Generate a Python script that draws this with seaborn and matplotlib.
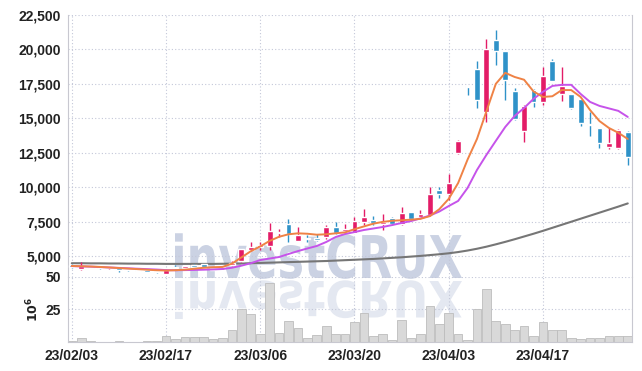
import numpy as np
import pandas as pd
import matplotlib
matplotlib.use("Agg")
import matplotlib.pyplot as plt
import seaborn as sns
from matplotlib.textpath import TextPath
from matplotlib.patches import PathPatch
from matplotlib.font_manager import FontProperties
from matplotlib.transforms import Affine2D
from matplotlib.ticker import FuncFormatter

# colores
ROJO = "#e31c67"
AZUL = "#2f92c8"
NARANJA = "#ef8245"
MORADO = "#c653ea"
GRIS_MA = "#767676"
GRID = "#c3c7d8"
MARCA = "#cbd2e3"

# datos diarios (60 sesiones, 23/02/03 .. 23/04/28)
apertura = [4350, 4050, 4220, 4200, 4100, 4100, 4000, 3990, 3960, 3900,
            3720, 4200, 4100, 4350, 4400, 4100, 4100, 4350, 4640, 5440,
            5630, 5750, 6650, 7330, 6110, 6290, 6330, 6400, 7130, 6840,
            6700, 7490, 7620, 7300, 7740, 7330, 8180, 7850, 7980, 9800,
            9510, 12510, 17360, 18590, 15490, 20700, 19900, 16990, 14110, 17060,
            16210, 19170, 16740, 16760, 16410, 14550, 14320, 12940, 12870, 14030]
maximo = [4400, 4600, 4260, 4230, 4180, 4180, 4020, 4010, 3980, 3920,
          4050, 4350, 4300, 4400, 4450, 4120, 4220, 4640, 5530, 6040,
          6000, 7420, 6960, 7670, 7080, 6530, 6620, 7280, 7490, 7300,
          7860, 8410, 7900, 8030, 7800, 8540, 8200, 8340, 9990, 10040,
          10960, 13400, 17360, 19170, 20750, 21420, 19900, 17230, 15950, 17100,
          18760, 19320, 18720, 16770, 16410, 15440, 14330, 14280, 14200, 14050]
minimo = [4150, 4000, 4120, 4080, 4080, 3870, 3940, 3880, 3840, 3800,
          3700, 4050, 4080, 4150, 4200, 3960, 4080, 4270, 4600, 5400,
          5450, 5430, 6360, 6040, 6100, 6040, 6100, 6250, 6600, 6700,
          6650, 7250, 7250, 6890, 7250, 7250, 7650, 7740, 7900, 9190,
          9070, 12390, 16700, 15730, 14760, 18880, 16340, 14900, 13310, 15830,
          16000, 17700, 16290, 15700, 14470, 13720, 12830, 12750, 12750, 11610]
cierre = [4200, 4300, 4150, 4100, 4150, 3960, 3960, 3900, 3860, 3830,
          4000, 4100, 4270, 4180, 4220, 3980, 4200, 4470, 5490, 5680,
          5820, 6840, 6770, 6600, 6530, 6260, 6160, 7130, 6690, 6940,
          7540, 7810, 7420, 7490, 7300, 8100, 7690, 8030, 9500, 9480,
          10330, 13360, 17300, 16340, 20020, 19850, 17790, 14930, 15900, 16210,
          18080, 17740, 17350, 15780, 14640, 14500, 13190, 13190, 14160, 12210]
volumen = [1.0, 3.4, 0.6, 0.3, 0.3, 0.5, 0.3, 0.3, 0.6, 0.4,
           4.4, 2.0, 3.5, 3.7, 3.7, 2.0, 3.0, 9.0, 25.7, 21.3,
           6.0, 45.0, 7.0, 16.0, 11.0, 3.0, 5.0, 12.0, 6.5, 6.5,
           15.4, 22.3, 4.4, 6.5, 1.8, 17.2, 3.4, 6.0, 28.0, 13.6,
           22.3, 6.5, 1.8, 25.0, 41.0, 16.0, 14.0, 9.0, 12.6, 4.4,
           15.0, 9.0, 9.0, 3.4, 2.6, 3.4, 3.4, 4.9, 4.9, 4.9]

# medias moviles
ma_corta = [4280, 4260, 4240, 4210, 4170, 4130, 4090, 4050, 4010, 3970,
            3950, 3970, 4010, 4080, 4150, 4190, 4210, 4450, 4900, 5350,
            5700, 6100, 6400, 6580, 6650, 6620, 6550, 6580, 6650, 6720,
            6950, 7150, 7350, 7480, 7560, 7600, 7640, 7700, 7900, 8400,
            9150, 10300, 12000, 13500, 15500, 17500, 18300, 18000, 17800, 16950,
            16550, 16600, 17050, 17050, 16550, 15600, 14800, 14300, 13950, 13500]
ma_media = [4270, 4250, 4230, 4200, 4170, 4140, 4110, 4080, 4050, 4020,
            3980, 3970, 3980, 3990, 4010, 4030, 4060, 4150, 4300, 4480,
            4710, 4820, 4930, 5150, 5360, 5550, 5730, 6020, 6380, 6600,
            6740, 6890, 7000, 7110, 7250, 7400, 7540, 7730, 7940, 8230,
            8630, 9000, 9940, 11250, 12340, 13360, 14370, 15170, 15750, 16410,
            16920, 17350, 17430, 17430, 16770, 16190, 15900, 15720, 15540, 15100]
ma_larga = [4480, 4480, 4470, 4470, 4460, 4460, 4450, 4450, 4440, 4440,
            4430, 4430, 4430, 4430, 4430, 4430, 4440, 4450, 4460, 4480,
            4500, 4520, 4540, 4560, 4580, 4600, 4620, 4640, 4670, 4700,
            4730, 4760, 4790, 4830, 4870, 4910, 4960, 5010, 5070, 5130,
            5200, 5290, 5400, 5530, 5680, 5850, 6030, 6220, 6420, 6620,
            6830, 7050, 7270, 7490, 7710, 7930, 8150, 8370, 8590, 8820]

pos_ticks = [0, 10, 20, 30, 40, 50]
etiquetas = ["23/02/03", "23/02/17", "23/03/06", "23/03/20", "23/04/03", "23/04/17"]

df = pd.DataFrame({"o": apertura, "h": maximo, "l": minimo, "c": cierre,
                   "v": volumen, "ma5": ma_corta, "ma20": ma_media, "ma120": ma_larga})
df["x"] = np.arange(len(df))
df["col"] = np.where(df["c"] >= df["o"], ROJO, AZUL)

sns.set_style("white")
plt.rcParams["font.family"] = ["Liberation Sans", "DejaVu Sans"]
plt.rcParams["font.weight"] = "bold"
TAM = 10

fig = plt.figure(figsize=(6.42, 3.71), dpi=100, facecolor="white")
ax = fig.add_axes([0.1059, 0.2534, 0.8785, 0.7062])
axv = fig.add_axes([0.1059, 0.0782, 0.8785, 0.1752], sharex=ax)
for a in (ax, axv):
    a.set_facecolor("none")
    a.grid(True, color=GRID, linestyle=(0, (1, 2)), linewidth=0.8)
    a.tick_params(length=0, labelsize=TAM, colors="#222222")
    for s in a.spines.values():
        s.set_color("#c8c8d0")
        s.set_linewidth(0.8)
ax.spines["top"].set_visible(False)
ax.spines["bottom"].set_visible(False)
axv.spines["top"].set_visible(False)

# velas
ax.vlines(df["x"], df["l"], df["h"], colors=df["col"], linewidth=1.0, zorder=3)
alto = (df["c"] - df["o"]).abs().clip(lower=50)
base = df[["o", "c"]].min(axis=1)
ax.bar(df["x"], alto, bottom=base, width=0.62, color=df["col"], zorder=4)

# medias
sns.lineplot(data=df, x="x", y="ma120", ax=ax, color=GRIS_MA, linewidth=1.5, zorder=2)
sns.lineplot(data=df, x="x", y="ma20", ax=ax, color=MORADO, linewidth=1.4, zorder=5)
sns.lineplot(data=df, x="x", y="ma5", ax=ax, color=NARANJA, linewidth=1.4, zorder=6)

ax.set_ylim(3480, 22500)
ax.set_yticks(np.arange(5000, 22501, 2500))
ax.yaxis.set_major_formatter(FuncFormatter(lambda v, p: f"{int(v):,}"))
ax.tick_params(axis="y", pad=5)
ax.set_xlabel("")
ax.set_ylabel("")
plt.setp(ax.get_xticklabels(), visible=False)

# volumen
sns.barplot(data=df, x="x", y="v", ax=axv, native_scale=True, color="#d9d9d9",
            edgecolor="#bdbdbd", linewidth=0.6, width=0.92, saturation=1, errorbar=None)
axv.set_ylim(0, 50)
axv.set_yticks([25, 50])
axv.tick_params(axis="y", pad=5)
axv.set_ylabel(r"$10^6$", fontsize=9, color="#222222", labelpad=3)
axv.set_xlabel("")
axv.set_xlim(-0.4, 59.45)
axv.set_xticks(pos_ticks)
axv.set_xticklabels(etiquetas)
axv.tick_params(axis="x", pad=5)

# marca de agua con reflejo
fp = FontProperties(family="DejaVu Sans", weight="bold")
tp = TextPath((0, 0), "investCRUX", size=1, prop=fp)
bb = tp.get_extents()
sx = 287 / bb.width
sy = 43 / 0.73
base_y = 371 - 278
t1 = Affine2D().translate(-bb.x0, 0).scale(sx, sy).translate(175, base_y)
t2 = Affine2D().translate(-bb.x0, 0).scale(sx, -sy * 0.85).translate(175, base_y - 3)
fig.add_artist(PathPatch(tp, facecolor=MARCA, edgecolor="none", transform=t1, zorder=-1))
fig.add_artist(PathPatch(tp, facecolor="#e4e8f1", edgecolor="none", transform=t2, zorder=-1))

fig.savefig("out.png", dpi=100, facecolor="white")
